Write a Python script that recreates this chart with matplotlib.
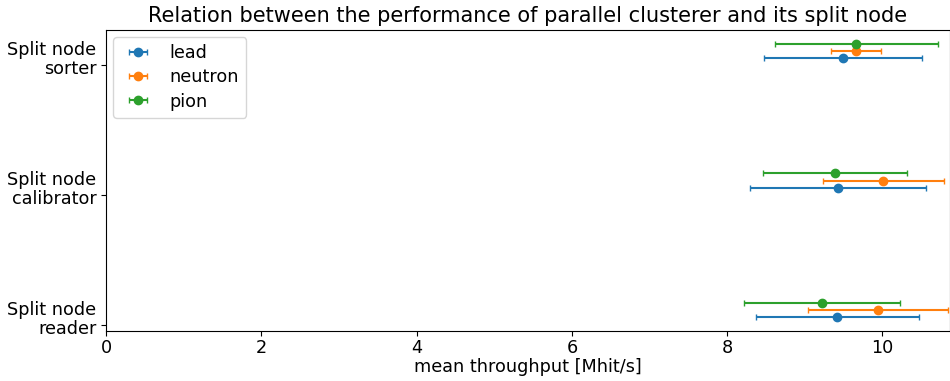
import numpy as np
import matplotlib
matplotlib.use("Agg")
import matplotlib.pyplot as plt
from matplotlib.transforms import ScaledTranslation

# categories on the y axis (bottom to top)
categories = ["Split node\nreader", "Split node\ncalibrator", "Split node\nsorter"]
series = ["lead", "neutron", "pion"]

# mean throughput and error per series, same order as categories
lead_mean = [9.42, 9.43, 9.49]
lead_err = [1.05, 1.13, 1.02]
neutron_mean = [9.94, 10.01, 9.66]
neutron_err = [0.90, 0.78, 0.32]
pion_mean = [9.22, 9.39, 9.66]
pion_err = [1.00, 0.93, 1.05]

means = [lead_mean, neutron_mean, pion_mean]
errs = [lead_err, neutron_err, pion_err]

plt.rcParams['font.size'] = 12.7

fig = plt.figure(figsize=(9.5, 3.81), dpi=100)
ax = fig.add_axes([0.1116, 0.131, 0.8884, 0.79])

y = np.arange(len(categories))
offset = 0.055
for i, name in enumerate(series):
    ax.errorbar(means[i], y + (i + 1) * offset, xerr=errs[i], fmt='o',
                capsize=2.5, markersize=6, label=name)

ax.set_yticks(y)
ax.set_yticklabels(categories, linespacing=1.05)
# last line of each label sits on the tick, like older matplotlib did
shift = ScaledTranslation(0, -9 / 100, fig.dpi_scale_trans)
for lbl in ax.get_yticklabels():
    lbl.set_va('baseline')
    lbl.set_transform(lbl.get_transform() + shift)

ax.tick_params(axis='x', pad=2.2)
ax.set_xlim(0, 10.87)
ax.set_xlabel("mean throughput [Mhit/s]", labelpad=0.8)
ax.set_title("Relation between the performance of parallel clusterer and its split node",
             fontsize=15)
ax.legend(loc="upper left", labelspacing=0.35, borderaxespad=0.4)

fig.savefig("out.png", dpi=100)
